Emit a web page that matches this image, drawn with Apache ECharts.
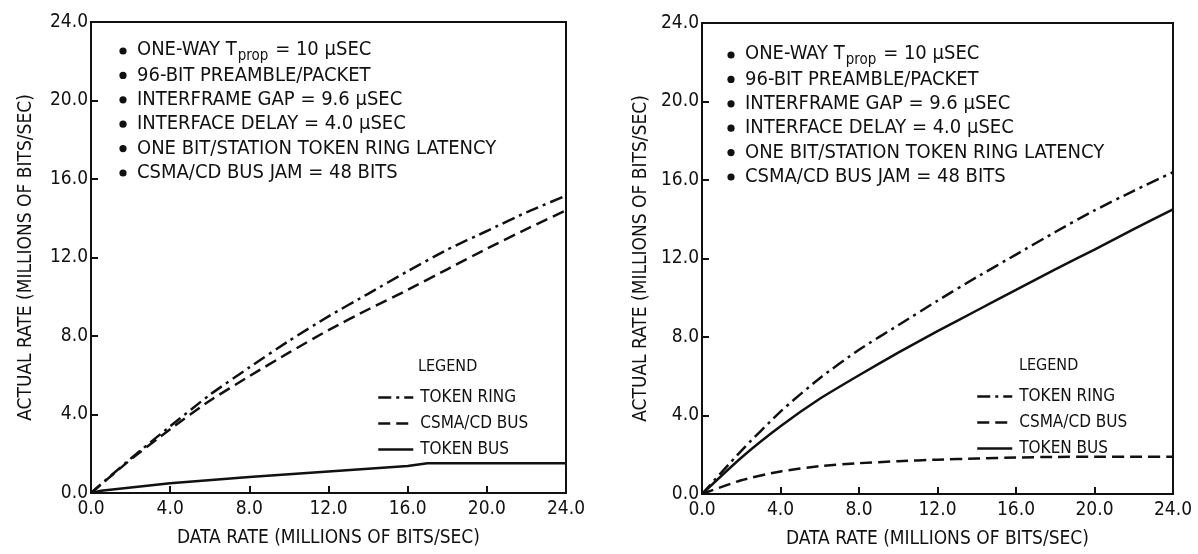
<!DOCTYPE html>
<html><head><meta charset="utf-8">
<script src="https://cdn.jsdelivr.net/npm/echarts@6/dist/echarts.min.js"></script>
<style>html,body{margin:0;padding:0;background:#fff}#c{width:1198px;height:554px}</style>
</head><body><div id="c"></div>
<script>
// ---------- data ----------
const dataRate = [0, 2, 4, 6, 8, 10, 12, 14, 16, 18, 20, 22, 24];

// left chart
const leftTokenRing = [0, 1.75, 3.4, 5.0, 6.4, 7.75, 9.0, 10.15, 11.3, 12.4, 13.35, 14.3, 15.15];
const leftCsmaCd    = [0, 1.7, 3.25, 4.7, 5.95, 7.15, 8.3, 9.35, 10.35, 11.4, 12.45, 13.45, 14.4];
const leftTokenBusX = [0, 0.5, 4, 8, 12, 16, 17, 24];
const leftTokenBus  = [0, 0.12, 0.5, 0.82, 1.1, 1.38, 1.52, 1.52];

// right chart
const rightTokenRing = [0, 2.2, 4.2, 5.9, 7.35, 8.6, 9.85, 11.05, 12.2, 13.35, 14.45, 15.45, 16.4];
const rightTokenBus  = [0, 1.85, 3.45, 4.85, 6.05, 7.2, 8.3, 9.35, 10.4, 11.45, 12.45, 13.5, 14.5];
const rightCsmaCd    = [0, 0.7, 1.15, 1.42, 1.57, 1.67, 1.75, 1.81, 1.86, 1.89, 1.9, 1.9, 1.9];

const seriesNames = ['TOKEN RING', 'CSMA/CD BUS', 'TOKEN BUS'];
const axisMin = 0, axisMax = 24, axisStep = 4;
const xTitle = 'DATA RATE (MILLIONS OF BITS/SEC)';
const yTitle = 'ACTUAL RATE (MILLIONS OF BITS/SEC)';
const notes = [
  '{m|ONE-WAY T}{s|prop}{m| = 10 μSEC}',
  '96-BIT PREAMBLE/PACKET',
  'INTERFRAME GAP = 9.6 μSEC',
  'INTERFACE DELAY = 4.0 μSEC',
  'ONE BIT/STATION TOKEN RING LATENCY',
  'CSMA/CD BUS JAM = 48 BITS'
];
const legendTitle = 'LEGEND';

// ---------- styles ----------
const FONT = "'Liberation Sans Narrow', 'DejaVu Sans Condensed', 'Liberation Sans', sans-serif";
const INK = '#111';
const styleOf = {
  'TOKEN RING': [13, 5, 3, 5],
  'CSMA/CD BUS': [12, 6],
  'TOKEN BUS': 'solid'
};

const pairs = (xs, ys) => xs.map((x, i) => [x, ys[i]]);

function mkLine(name, idx, data, smooth) {
  return {
    name, type: 'line', xAxisIndex: idx, yAxisIndex: idx, data,
    showSymbol: false, symbol: 'none', smooth: smooth, animation: false,
    lineStyle: { color: INK, width: 2.5, type: styleOf[name] },
    itemStyle: { color: INK }
  };
}

function mkX(idx, gap) {
  return {
    type: 'value', gridIndex: idx, min: axisMin, max: axisMax, interval: axisStep,
    name: xTitle, nameLocation: 'middle', nameGap: gap,
    nameTextStyle: { fontFamily: FONT, fontSize: 19, color: INK },
    axisLine: { show: true, lineStyle: { color: INK, width: 2 } },
    axisTick: { show: true, inside: true, length: 7, lineStyle: { color: INK, width: 2 } },
    axisLabel: { fontFamily: FONT, fontSize: 19, color: INK, margin: 7, formatter: v => v.toFixed(1) },
    splitLine: { show: false }
  };
}
function mkY(idx, gap) {
  return {
    type: 'value', gridIndex: idx, min: axisMin, max: axisMax, interval: axisStep,
    name: yTitle, nameLocation: 'middle', nameGap: gap, nameRotate: 90,
    nameTextStyle: { fontFamily: FONT, fontSize: 19, color: INK },
    axisLine: { show: true, lineStyle: { color: INK, width: 2 } },
    axisTick: { show: true, inside: true, length: 7, lineStyle: { color: INK, width: 2 } },
    axisLabel: { fontFamily: FONT, fontSize: 19, color: INK, margin: 3, formatter: v => v.toFixed(1) },
    splitLine: { show: false }
  };
}

function mkLegend(left, top) {
  return {
    left, top, orient: 'vertical', itemWidth: 35, itemHeight: 14, itemGap: 9,
    data: seriesNames, selectedMode: false,
    itemStyle: { opacity: 0 },
    lineStyle: { width: 2.5 },
    textStyle: { fontFamily: FONT, fontSize: 17, color: INK, padding: [0, 0, 0, 2] }
  };
}

const graphics = [];
function addNotes(bulletX, textX, topY, step) {
  notes.forEach((t, i) => {
    const y = topY + i * step;
    graphics.push({ type: 'circle', shape: { cx: bulletX, cy: y, r: 3.6 }, style: { fill: INK } });
    graphics.push({
      type: 'text', x: textX, y: y,
      style: {
        text: t, fill: INK, font: '20px ' + FONT, textVerticalAlign: 'middle',
        rich: {
          m: { fontFamily: FONT, fontSize: 20, fill: INK, lineHeight: 22, verticalAlign: 'top' },
          s: { fontFamily: FONT, fontSize: 15, fill: INK, lineHeight: 22, padding: [9, 1, 0, 1], verticalAlign: 'top' }
        }
      }
    });
  });
}
addNotes(123, 137, 51, 24.4);
addNotes(731, 745, 55, 24.4);
graphics.push({ type: 'text', x: 418, y: 367, style: { text: legendTitle, fill: INK, font: '16px ' + FONT, textVerticalAlign: 'middle' } });
graphics.push({ type: 'text', x: 1019, y: 366, style: { text: legendTitle, fill: INK, font: '16px ' + FONT, textVerticalAlign: 'middle' } });

const chart = echarts.init(document.getElementById('c'), null, { renderer: 'canvas' });
chart.setOption({
  backgroundColor: '#fff',
  animation: false,
  grid: [
    { left: 91, top: 22, width: 475, height: 471, show: true, borderColor: INK, borderWidth: 2, backgroundColor: 'transparent' },
    { left: 702, top: 23, width: 471, height: 474, show: true, borderColor: INK, borderWidth: 2, backgroundColor: 'transparent' }
  ],
  xAxis: [mkX(0, 36), mkX(1, 36)],
  yAxis: [mkY(0, 55), mkY(1, 51)],
  legend: [mkLegend(372, 384), mkLegend(971, 383)],
  graphic: graphics,
  series: [
    mkLine('TOKEN RING', 0, pairs(dataRate, leftTokenRing), 0.2),
    mkLine('CSMA/CD BUS', 0, pairs(dataRate, leftCsmaCd), 0.2),
    mkLine('TOKEN BUS', 0, pairs(leftTokenBusX, leftTokenBus), false),
    mkLine('TOKEN RING', 1, pairs(dataRate, rightTokenRing), 0.2),
    mkLine('CSMA/CD BUS', 1, pairs(dataRate, rightCsmaCd), 0.2),
    mkLine('TOKEN BUS', 1, pairs(dataRate, rightTokenBus), 0.2)
  ]
});
</script></body></html>
